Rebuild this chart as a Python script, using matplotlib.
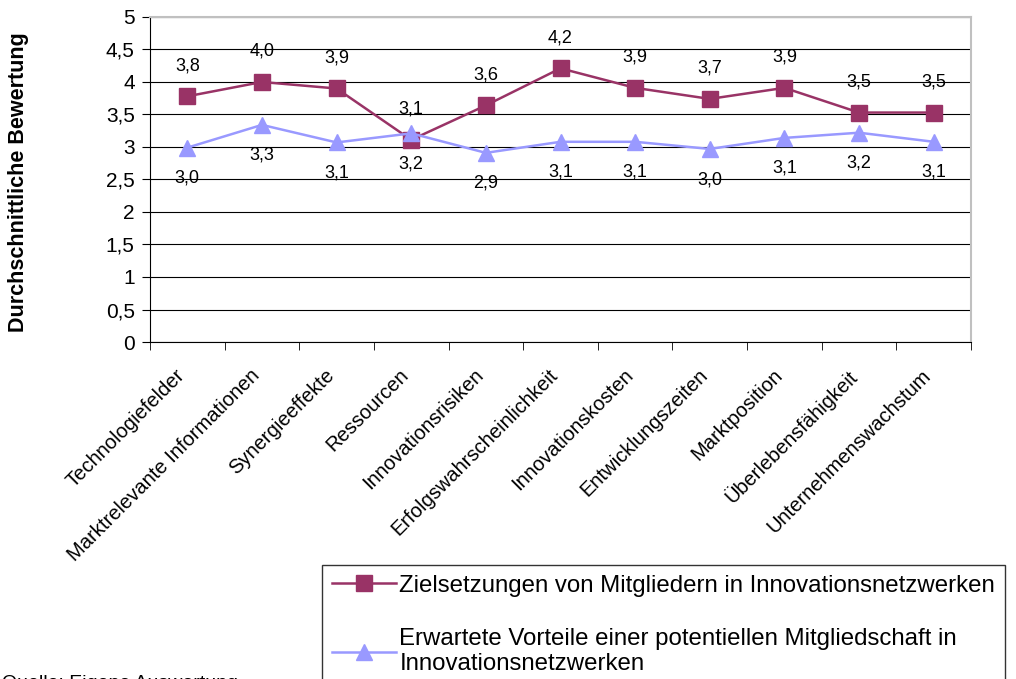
import matplotlib.pyplot as plt
import matplotlib.transforms as mtransforms
from matplotlib.ticker import FuncFormatter, FixedLocator, NullFormatter
import numpy as np

plt.rcParams['font.family'] = ['Liberation Sans', 'DejaVu Sans']

# data
categories = ["Technologiefelder", "Marktrelevante Informationen", "Synergieeffekte",
              "Ressourcen", "Innovationsrisiken", "Erfolgswahrscheinlichkeit",
              "Innovationskosten", "Entwicklungszeiten", "Marktposition",
              "Überlebensfähigkeit", "Unternehmenswachstum"]
ziele = [3.78, 4.00, 3.90, 3.11, 3.64, 4.21, 3.91, 3.74, 3.91, 3.53, 3.53]
vorteile = [2.99, 3.34, 3.07, 3.21, 2.91, 3.08, 3.08, 2.97, 3.14, 3.22, 3.08]
label_ziele = "Zielsetzungen von Mitgliedern in Innovationsnetzwerken"
label_vorteile = "Erwartete Vorteile einer potentiellen Mitgliedschaft in\nInnovationsnetzwerken"

red = "#993366"
blue = "#9999FF"

fig = plt.figure(figsize=(10.16, 6.79), dpi=100)
ax = fig.add_axes([150 / 1016, 1 - 342 / 679, (971 - 150) / 1016, (342 - 17) / 679])

x = np.arange(len(categories))
l1, = ax.plot(x, ziele, color=red, lw=1.8, marker="s", ms=11, label=label_ziele)
l2, = ax.plot(x, vorteile, color=blue, lw=1.8, marker="^", ms=11, label=label_vorteile)

fmt = lambda v: f"{v:.1f}".replace(".", ",")
for xi, v in zip(x, ziele):
    ax.annotate(fmt(v), (xi, v), xytext=(0, 22), textcoords="offset points",
                ha="center", va="center", fontsize=13)
for xi, v in zip(x, vorteile):
    ax.annotate(fmt(v), (xi, v), xytext=(0, -22), textcoords="offset points",
                ha="center", va="center", fontsize=13)

ax.set_xlim(-0.5, len(categories) - 0.5)
ax.set_ylim(0, 5)
ax.set_yticks(np.arange(0, 5.01, 0.5))
ax.yaxis.set_major_formatter(FuncFormatter(lambda v, p: f"{v:g}".replace(".", ",")))
ax.yaxis.grid(True, color="black", lw=0.8)
ax.set_axisbelow(True)

ax.set_xticks(x)
ax.set_xticklabels(categories, rotation=45, ha="right", rotation_mode="anchor", fontsize=14.5)
ax.tick_params(axis="x", length=0, pad=17)
shift = mtransforms.ScaledTranslation(-12 / 100, 0, fig.dpi_scale_trans)
for lab in ax.get_xticklabels():
    lab.set_transform(lab.get_transform() + shift)
ax.xaxis.set_minor_locator(FixedLocator(np.arange(-0.5, len(categories), 1)))
ax.xaxis.set_minor_formatter(NullFormatter())
ax.tick_params(axis="x", which="minor", length=6, color="black")
ax.tick_params(axis="y", labelsize=15, length=6, pad=5)

ax.spines["left"].set_color("black")
ax.spines["bottom"].set_color("black")
ax.spines["top"].set_color("#c0c0c0")
ax.spines["right"].set_color("#c0c0c0")
ax.spines["top"].set_linewidth(1.5)
ax.spines["right"].set_linewidth(1.5)

fig.text(19 / 1016, 1 - 182 / 679, "Durchschnittliche Bewertung", rotation=90,
         ha="center", va="center", fontsize=15.5, fontweight="bold")

leg = fig.legend(handles=[l1, l2], loc="upper left",
                 bbox_to_anchor=(322 / 1016, 1 - 565 / 679),
                 fontsize=17.3, frameon=True, fancybox=False, labelspacing=1.3,
                 handlelength=2.7, handletextpad=0.12, borderpad=0.4,
                 borderaxespad=0)
leg.get_frame().set_edgecolor("black")
leg.get_frame().set_linewidth(1.0)

fig.text(2 / 1016, 1 - 675 / 679, "Quelle: Eigene Auswertung", ha="left", va="top",
         fontsize=14)

fig.savefig("out.png", dpi=100)
